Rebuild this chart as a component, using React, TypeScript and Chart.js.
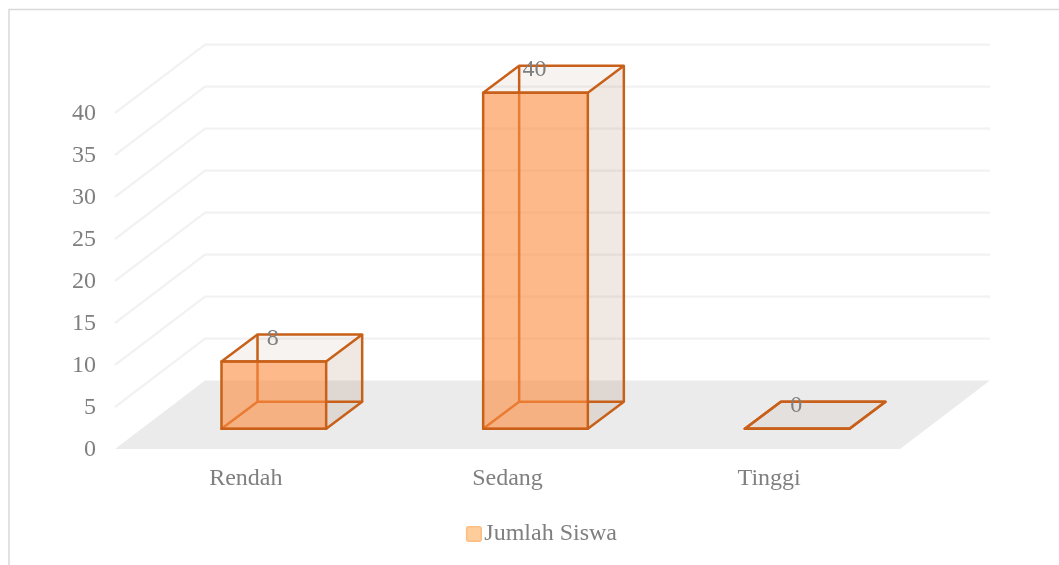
import React, { useEffect, useRef } from "react";
import { Chart, registerables } from "chart.js";

Chart.register(...registerables);

const categories = ["Rendah", "Sedang", "Tinggi"];
const jumlahSiswa = [8, 40, 0];
const seriesName = "Jumlah Siswa";
const yMax = 40;
const yStep = 5;

const FONT = "'Liberation Serif'";
const TEXT = "#7f7f7f";
const EDGE = "#c8601a";
const WALL_DX = 90;
const WALL_DY = 68.5;
const WALL_W = 785;
const BAR_SHIFT_X = 28;
const BAR_SHIFT_Y = 20.3;
const BAR_DX = 36;
const BAR_DY = 27;

function poly(ctx: CanvasRenderingContext2D, pts: number[][]) {
  ctx.beginPath();
  pts.forEach((p, i) => (i ? ctx.lineTo(p[0], p[1]) : ctx.moveTo(p[0], p[1])));
  ctx.closePath();
}

function legendMarker() {
  // the square sits at the right of a wider sprite, so that it lands close to the text
  const c = document.createElement("canvas");
  c.width = 20;
  c.height = 16;
  const g = c.getContext("2d")!;
  g.fillStyle = "#fdcd9b";
  g.strokeStyle = "#fbbe82";
  g.lineWidth = 1.5;
  g.beginPath();
  g.roundRect(4.75, 0.75, 14.5, 14.5, 2);
  g.fill();
  g.stroke();
  return c;
}

const scene = {
  id: "scene",
  beforeDraw(chart: any) {
    const ctx: CanvasRenderingContext2D = chart.ctx;
    const { x, y } = chart.scales;
    const y0 = y.getPixelForValue(0);
    ctx.save();
    // chart frame
    ctx.strokeStyle = "#d9d9d9";
    ctx.lineWidth = 1.5;
    ctx.beginPath();
    ctx.moveTo(9, 565);
    ctx.lineTo(9, 9.5);
    ctx.lineTo(1059, 9.5);
    ctx.stroke();
    // floor
    ctx.fillStyle = "#ebebeb";
    poly(ctx, [
      [x.left, y0],
      [x.left + WALL_DX, y0 - WALL_DY],
      [x.right + WALL_DX, y0 - WALL_DY],
      [x.right, y0],
    ]);
    ctx.fill();
    // grid lines folded over side wall and back wall
    ctx.strokeStyle = "#f2f2f2";
    ctx.lineWidth = 2.25;
    y.ticks.forEach((t: any) => {
      if (t.value === 0) return;
      const p = y.getPixelForValue(t.value);
      ctx.beginPath();
      ctx.moveTo(x.left, p);
      ctx.lineTo(x.left + WALL_DX, p - WALL_DY);
      ctx.lineTo(x.left + WALL_DX + WALL_W, p - WALL_DY);
      ctx.stroke();
    });
    ctx.restore();
  },
  beforeDatasetsDraw(chart: any) {
    const ctx: CanvasRenderingContext2D = chart.ctx;
    const meta = chart.getDatasetMeta(0);
    ctx.save();
    ctx.translate(BAR_SHIFT_X, -BAR_SHIFT_Y);
    meta.data.forEach((bar: any) => {
      const l = bar.x - bar.width / 2;
      const r = bar.x + bar.width / 2;
      const t = bar.y;
      const b = bar.base;
      // side and top faces
      ctx.fillStyle = "rgba(155,102,62,0.15)";
      poly(ctx, [[r, t], [r + BAR_DX, t - BAR_DY], [r + BAR_DX, b - BAR_DY], [r, b]]);
      ctx.fill();
      ctx.fillStyle = "rgba(155,105,65,0.08)";
      poly(ctx, [[l, t], [r, t], [r + BAR_DX, t - BAR_DY], [l + BAR_DX, t - BAR_DY]]);
      ctx.fill();
      // hidden and outline edges
      ctx.strokeStyle = EDGE;
      ctx.lineWidth = 2.5;
      ctx.lineJoin = "round";
      poly(ctx, [[l, t], [r, t], [r + BAR_DX, t - BAR_DY], [l + BAR_DX, t - BAR_DY]]);
      ctx.stroke();
      poly(ctx, [[l, b], [r, b], [r + BAR_DX, b - BAR_DY], [l + BAR_DX, b - BAR_DY]]);
      ctx.stroke();
      ctx.beginPath();
      ctx.moveTo(l + BAR_DX, t - BAR_DY);
      ctx.lineTo(l + BAR_DX, b - BAR_DY);
      ctx.moveTo(r + BAR_DX, t - BAR_DY);
      ctx.lineTo(r + BAR_DX, b - BAR_DY);
      ctx.stroke();
    });
  },
  afterDatasetsDraw(chart: any) {
    const ctx: CanvasRenderingContext2D = chart.ctx;
    const meta = chart.getDatasetMeta(0);
    // front outline, over the native translucent bar
    ctx.strokeStyle = EDGE;
    ctx.lineWidth = 2.5;
    ctx.lineJoin = "round";
    meta.data.forEach((bar: any) => {
      const l = bar.x - bar.width / 2;
      ctx.strokeRect(l, bar.y, bar.width, bar.base - bar.y);
    });
    ctx.restore();
    ctx.save();
    ctx.fillStyle = TEXT;
    ctx.font = `24px ${FONT}`;
    ctx.textAlign = "center";
    ctx.textBaseline = "middle";
    meta.data.forEach((bar: any, i: number) => {
      ctx.fillText(String(jumlahSiswa[i]), bar.x + BAR_SHIFT_X - 1, bar.y - BAR_SHIFT_Y - 22.7);
    });
    ctx.restore();
  },
  afterLayout(chart: any) {
    const lg = chart.legend;
    lg.left = 400;
    lg.right = 617;
    lg.top = 522;
    lg.bottom = lg.top + lg.height;
  },
};

export default function App() {
  const ref = useRef<HTMLCanvasElement>(null);
  useEffect(() => {
    document.body.style.margin = "0";
    const marker = legendMarker();
    const chart = new Chart(ref.current!, {
      type: "bar",
      data: {
        labels: categories,
        datasets: [
          {
            label: seriesName,
            data: jumlahSiswa,
            backgroundColor: "rgba(253,142,66,0.62)",
            borderWidth: 0,
            barPercentage: 0.4,
            categoryPercentage: 1,
            clip: false,
          } as any,
        ],
      },
      options: {
        responsive: false,
        animation: false,
        layout: { padding: { top: 113, left: 0, right: 159, bottom: 0 } },
        scales: {
          x: {
            grid: { display: false },
            border: { display: false },
            ticks: { color: TEXT, font: { family: FONT, size: 24 }, padding: 7 },
            afterFit: (s: any) => {
              s.height = 82;
            },
          },
          y: {
            min: 0,
            max: yMax,
            grid: { display: false, drawTicks: false },
            border: { display: false },
            ticks: {
              stepSize: yStep,
              color: TEXT,
              font: { family: FONT, size: 24 },
              padding: 19,
              labelOffset: 1,
            },
            afterFit: (s: any) => {
              s.width = 115;
            },
          },
        },
        plugins: {
          tooltip: { enabled: false },
          legend: {
            position: "bottom",
            align: "end",
            labels: {
              color: TEXT,
              font: { family: FONT, size: 24 },
              padding: 0,
              usePointStyle: true,
              boxWidth: 1,
              boxHeight: 14,
              generateLabels: () => [
                {
                  text: seriesName,
                  fontColor: TEXT,
                  pointStyle: marker,
                  lineWidth: 0,
                  datasetIndex: 0,
                } as any,
              ],
            },
          },
        },
      },
      plugins: [scene as any],
    });
    return () => chart.destroy();
  }, []);
  return <canvas ref={ref} width={1059} height={565} style={{ display: "block" }} />;
}
